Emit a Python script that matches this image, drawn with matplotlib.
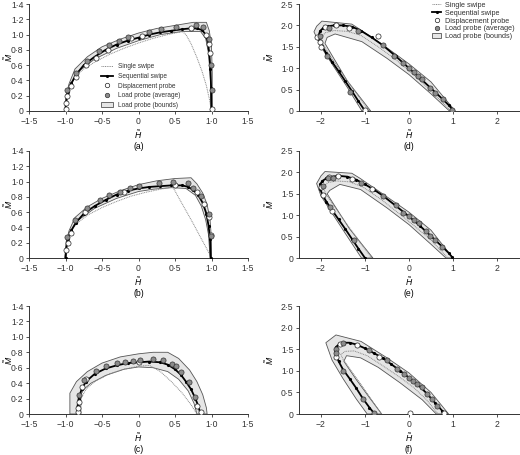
import matplotlib
matplotlib.use("Agg")
import matplotlib.pyplot as plt
from matplotlib.ticker import FuncFormatter, FixedLocator
from matplotlib.lines import Line2D
from matplotlib.patches import Patch

plt.rcParams['font.family'] = ['Liberation Sans', 'DejaVu Sans']
plt.rcParams['mathtext.fontset'] = 'custom'
plt.rcParams['mathtext.it'] = 'Liberation Sans:italic'
plt.rcParams['mathtext.rm'] = 'Liberation Sans'

# ---------------- data ----------------
captions = ['(a)', '(b)', '(c)', '(d)', '(e)', '(f)']
legend_labels = ['Single swipe', 'Sequential swipe', 'Displacement probe',
                 'Load probe (average)', 'Load probe (bounds)']
left_xticks = [-1.5, -1.0, -0.5, 0.0, 0.5, 1.0, 1.5]
left_yticks = [0.0, 0.2, 0.4, 0.6, 0.8, 1.0, 1.2, 1.4]
right_xticks = [-2, -1, 0, 1, 2]
right_yticks = [0.0, 0.5, 1.0, 1.5, 2.0, 2.5]

# panel (a)
a_seq_H = [-1.0, -0.99, -0.97, -0.92, -0.86, -0.75, -0.6, -0.45, -0.3, -0.15, 0.0, 0.15, 0.3, 0.45, 0.6, 0.7, 0.8, 0.87, 0.92, 0.95, 0.97, 0.985, 0.995, 1.0]
a_seq_M = [0.0, 0.12, 0.25, 0.36, 0.47, 0.6, 0.71, 0.8, 0.87, 0.92, 0.96, 1.0, 1.03, 1.05, 1.07, 1.08, 1.08, 1.06, 1.0, 0.9, 0.75, 0.55, 0.3, 0.0]
a_single_H = [-1.0, -0.98, -0.94, -0.87, -0.75, -0.6, -0.4, -0.2, 0.0, 0.2, 0.4, 0.6, 0.65, 0.72, 0.8, 0.87, 0.93, 0.97, 1.0]
a_single_M = [0.0, 0.18, 0.33, 0.45, 0.55, 0.64, 0.74, 0.82, 0.89, 0.95, 1.0, 1.04, 1.0, 0.88, 0.7, 0.52, 0.33, 0.16, 0.0]
a_disp_H = [-1.0, -1.0, -0.98, -0.93, -0.86, -0.72, -0.58, -0.42, -0.1, 0.05, 0.72, 0.92, 0.96, 0.98, 1.0]
a_disp_M = [0.02, 0.11, 0.2, 0.33, 0.44, 0.6, 0.7, 0.8, 0.95, 0.98, 1.09, 0.99, 0.88, 0.76, 0.03]
a_load_H = [-0.98, -0.85, -0.70, -0.54, -0.40, -0.27, -0.14, 0.14, 0.31, 0.51, 0.79, 0.88, 0.97, 0.99, 1.0]
a_load_M = [0.28, 0.50, 0.66, 0.78, 0.86, 0.91, 0.965, 1.04, 1.07, 1.10, 1.13, 1.10, 0.94, 0.60, 0.28]
a_bound_H = [-1.01, -0.99, -0.95, -0.87, -0.7, -0.5, -0.25, 0.0, 0.25, 0.5, 0.75, 0.93, 0.97, 1.0, 1.01, 1.01,
             0.99, 0.985, 0.96, 0.92, 0.85, 0.6, 0.3, 0.0, -0.3, -0.6, -0.82, -0.93, -0.98, -0.99]
a_bound_M = [0.0, 0.22, 0.36, 0.55, 0.71, 0.84, 0.94, 1.02, 1.08, 1.12, 1.16, 1.16, 1.05, 0.85, 0.5, 0.0,
             0.0, 0.4, 0.75, 0.95, 1.04, 1.04, 1.0, 0.92, 0.82, 0.68, 0.52, 0.35, 0.18, 0.0]

# panel (b)
b_seq_H = [-1.0, -0.99, -0.97, -0.92, -0.86, -0.75, -0.6, -0.45, -0.3, -0.15, 0.0, 0.15, 0.3, 0.45, 0.6, 0.68, 0.75, 0.82, 0.88, 0.93, 0.96, 0.98, 0.99]
b_seq_M = [0.0, 0.12, 0.25, 0.36, 0.46, 0.58, 0.68, 0.76, 0.83, 0.88, 0.91, 0.93, 0.94, 0.95, 0.95, 0.93, 0.89, 0.82, 0.72, 0.58, 0.42, 0.25, 0.0]
b_single_H = [-1.0, -0.98, -0.93, -0.85, -0.7, -0.5, -0.3, -0.1, 0.1, 0.3, 0.47, 0.55, 0.65, 0.75, 0.85, 0.93, 0.99]
b_single_M = [0.0, 0.2, 0.34, 0.45, 0.56, 0.66, 0.74, 0.81, 0.86, 0.9, 0.93, 0.79, 0.62, 0.45, 0.27, 0.13, 0.02]
b_disp_H = [-1.0, -0.97, -0.93, -0.73, -0.2, 0.5, 0.8, 0.9, 0.96, 0.99]
b_disp_M = [0.1, 0.2, 0.33, 0.6, 0.87, 0.96, 0.87, 0.7, 0.53, 0.3]
b_load_H = [-0.98, -0.87, -0.7, -0.53, -0.4, -0.25, -0.12, 0.0, 0.28, 0.47, 0.68, 0.75, 0.86, 0.97, 0.99]
b_load_M = [0.28, 0.5, 0.66, 0.76, 0.83, 0.87, 0.91, 0.94, 0.98, 0.99, 0.98, 0.92, 0.81, 0.57, 0.29]
b_bound_H = [-1.01, -0.99, -0.95, -0.87, -0.7, -0.5, -0.25, 0.0, 0.25, 0.5, 0.72, 0.8, 0.88, 0.94, 0.98, 1.0, 1.0,
             0.98, 0.96, 0.92, 0.86, 0.78, 0.65, 0.45, 0.2, 0.0, -0.3, -0.6, -0.82, -0.93, -0.98, -0.99]
b_bound_M = [0.0, 0.22, 0.36, 0.53, 0.67, 0.78, 0.88, 0.96, 1.01, 1.04, 1.05, 0.97, 0.85, 0.7, 0.5, 0.25, 0.0,
             0.0, 0.3, 0.5, 0.68, 0.82, 0.91, 0.92, 0.9, 0.87, 0.78, 0.65, 0.5, 0.35, 0.18, 0.0]

# panel (c)
c_seq_H = [-0.84, -0.835, -0.82, -0.78, -0.72, -0.6, -0.45, -0.3, -0.15, 0.0, 0.15, 0.3, 0.4, 0.5, 0.58, 0.65, 0.72, 0.78, 0.82, 0.85]
c_seq_M = [0.0, 0.1, 0.2, 0.32, 0.42, 0.52, 0.59, 0.63, 0.66, 0.67, 0.68, 0.67, 0.64, 0.58, 0.51, 0.42, 0.32, 0.2, 0.1, 0.0]
c_single_H = [-0.83, -0.8, -0.72, -0.6, -0.4, -0.2, 0.0, 0.15, 0.3, 0.45, 0.6, 0.72, 0.8]
c_single_M = [0.0, 0.18, 0.32, 0.42, 0.52, 0.58, 0.62, 0.63, 0.55, 0.42, 0.27, 0.12, 0.0]
c_disp_H = [-0.83, -0.83, -0.82, -0.78, -0.72, 0.0, 0.8, 0.85]
c_disp_M = [0.02, 0.08, 0.15, 0.35, 0.45, 0.67, 0.1, 0.02]
c_load_H = [-0.82, -0.75, -0.58, -0.44, -0.3, -0.18, -0.08, 0.02, 0.2, 0.33, 0.46, 0.51, 0.58, 0.69, 0.78]
c_load_M = [0.25, 0.44, 0.56, 0.62, 0.66, 0.68, 0.69, 0.70, 0.71, 0.70, 0.65, 0.62, 0.55, 0.41, 0.22]
c_bound_H = [-0.94, -0.94, -0.85, -0.7, -0.5, -0.25, 0.0, 0.2, 0.4, 0.55, 0.7, 0.8, 0.88, 0.93, 0.94,
             0.8, 0.76, 0.68, 0.55, 0.4, 0.2, 0.0, -0.2, -0.45, -0.65, -0.75, -0.79, -0.79]
c_bound_M = [0.0, 0.27, 0.42, 0.55, 0.66, 0.74, 0.78, 0.8, 0.8, 0.72, 0.57, 0.42, 0.25, 0.08, 0.0,
             0.0, 0.14, 0.3, 0.45, 0.55, 0.6, 0.61, 0.58, 0.5, 0.4, 0.32, 0.25, 0.0]

# panel (d)
d_seq_H = [-1.0, -1.15, -1.3, -1.45, -1.6, -1.75, -1.88, -1.98, -2.04, -2.05, -2.02, -1.95, -1.85, -1.7, -1.5, -1.3, -1.1, -0.85, -0.6, -0.3, 0.0, 0.25, 0.5, 0.75, 0.9, 1.0]
d_seq_M = [0.0, 0.23, 0.47, 0.7, 0.93, 1.15, 1.35, 1.52, 1.67, 1.78, 1.87, 1.94, 1.98, 2.0, 2.0, 1.97, 1.88, 1.72, 1.54, 1.28, 1.0, 0.77, 0.53, 0.29, 0.14, 0.02]
d_single_H = [-0.9, -1.2, -1.5, -1.8, -1.95, -2.0, -1.9, -1.7, -1.4, -1.1, -0.7, -0.3, 0.1, 0.5, 0.95]
d_single_M = [0.0, 0.42, 0.85, 1.3, 1.55, 1.72, 1.83, 1.88, 1.86, 1.77, 1.5, 1.2, 0.85, 0.47, 0.0]
d_disp_H = [-2.08, -2.03, -2.0, -1.9, -1.66, -1.36, -0.71, -1.0]
d_disp_M = [1.74, 1.62, 1.5, 1.97, 2.0, 1.95, 1.75, 0.02]
d_load_H = [-2.03, -1.87, -1.33, -1.82, -1.17, -0.6, -0.33, -0.13, 0.0, 0.11, 0.21, 0.29, 0.48, 0.59, 0.77, 0.97]
d_load_M = [1.76, 1.28, 0.45, 1.95, 1.88, 1.54, 1.28, 1.13, 1.0, 0.92, 0.82, 0.74, 0.53, 0.41, 0.27, 0.02]
d_bound_H = [-1.07, -1.4, -1.75, -2.0, -2.16, -2.1, -1.98, -1.3, -1.15, -0.6, 0.0, 0.5, 1.05,
             0.92, 0.5, 0.0, -0.5, -1.07, -1.68, -1.86, -1.91, -1.75, -1.4, -0.87]
d_bound_M = [0.0, 0.55, 1.1, 1.5, 1.85, 1.98, 2.1, 2.03, 1.93, 1.55, 1.1, 0.68, 0.0,
             0.0, 0.4, 0.85, 1.23, 1.62, 1.8, 1.72, 1.58, 1.3, 0.7, 0.0]

# panel (e)
e_seq_H = [-1.0, -1.15, -1.3, -1.45, -1.6, -1.75, -1.88, -1.97, -2.02, -2.02, -1.97, -1.88, -1.75, -1.6, -1.4, -1.2, -1.0, -0.8, -0.6, -0.3, 0.0, 0.25, 0.5, 0.75, 0.9, 0.98]
e_seq_M = [0.0, 0.22, 0.45, 0.68, 0.9, 1.12, 1.32, 1.48, 1.62, 1.72, 1.8, 1.86, 1.9, 1.92, 1.9, 1.83, 1.72, 1.6, 1.46, 1.22, 0.97, 0.75, 0.51, 0.27, 0.12, 0.02]
e_single_H = [-0.85, -1.15, -1.45, -1.75, -1.9, -1.95, -1.85, -1.65, -1.35, -1.05, -0.65, -0.3, 0.1, 0.5, 0.88]
e_single_M = [0.0, 0.42, 0.85, 1.28, 1.52, 1.66, 1.76, 1.8, 1.78, 1.66, 1.38, 1.1, 0.77, 0.42, 0.0]
e_disp_H = [-2.0, -1.95, -1.82, -1.62, -1.3, -0.84, -1.74]
e_disp_M = [1.65, 1.48, 1.9, 1.92, 1.85, 1.62, 1.1]
e_load_H = [-1.95, -1.83, -1.72, -1.09, -0.6, -0.3, -0.13, 0.0, 0.11, 0.22, 0.38, 0.48, 0.59, 0.74, -1.8, -1.24]
e_load_M = [1.68, 1.87, 1.88, 1.75, 1.45, 1.24, 1.06, 0.98, 0.89, 0.81, 0.62, 0.52, 0.41, 0.25, 1.18, 0.41]
e_bound_H = [-1.08, -1.4, -1.75, -2.0, -2.1, -2.0, -1.91, -1.3, -1.11, -0.6, 0.0, 0.5, 1.0,
             0.84, 0.5, 0.0, -0.5, -1.1, -1.57, -1.8, -1.86, -1.72, -1.35, -0.82]
e_bound_M = [0.0, 0.5, 1.05, 1.45, 1.74, 1.92, 2.02, 1.98, 1.86, 1.5, 1.07, 0.65, 0.0,
             0.0, 0.32, 0.78, 1.17, 1.6, 1.72, 1.58, 1.5, 1.27, 0.68, 0.0]

# panel (f)
f_seq_H = [-0.78, -0.9, -1.05, -1.2, -1.35, -1.5, -1.6, -1.66, -1.68, -1.65, -1.58, -1.47, -1.35, -1.2, -1.0, -0.8, -0.6, -0.4, -0.2, 0.0, 0.2, 0.4, 0.6, 0.75, 0.8]
f_seq_M = [0.0, 0.15, 0.36, 0.6, 0.82, 1.03, 1.22, 1.37, 1.48, 1.56, 1.62, 1.65, 1.65, 1.61, 1.52, 1.41, 1.3, 1.15, 1.0, 0.84, 0.68, 0.48, 0.25, 0.08, 0.0]
f_single_H = [-0.62, -0.85, -1.1, -1.35, -1.5, -1.55, -1.45, -1.25, -0.95, -0.6, -0.25, 0.1, 0.4, 0.66]
f_single_M = [0.0, 0.33, 0.7, 1.05, 1.27, 1.38, 1.45, 1.46, 1.35, 1.12, 0.88, 0.62, 0.33, 0.0]
f_disp_H = [-1.66, -1.57, -1.19, -0.68, 0.02, 0.8]
f_disp_M = [1.33, 1.62, 1.6, 1.32, 0.02, 0.02]
f_load_H = [-1.66, -1.66, -1.51, -0.91, -0.49, -0.27, -0.11, 0.0, 0.1, 0.19, 0.29, 0.4, 0.52, 0.63, -1.49, -1.04, -0.79]
f_load_M = [1.51, 1.41, 1.64, 1.47, 1.25, 1.05, 0.93, 0.83, 0.77, 0.7, 0.62, 0.46, 0.35, 0.18, 1.0, 0.35, 0.02]
f_bound_H = [-0.95, -1.2, -1.5, -1.75, -1.89, -1.66, -1.09, -0.5, 0.0, 0.5, 0.9,
             0.62, 0.3, -0.2, -0.7, -1.1, -1.42, -1.48, -1.2, -0.9, -0.62]
f_bound_M = [0.0, 0.35, 0.82, 1.25, 1.65, 1.83, 1.68, 1.3, 0.95, 0.5, 0.0,
             0.0, 0.33, 0.72, 1.08, 1.3, 1.35, 1.22, 0.8, 0.38, 0.0]

panels = [
    (a_seq_H, a_seq_M, a_single_H, a_single_M, a_disp_H, a_disp_M, a_load_H, a_load_M, a_bound_H, a_bound_M),
    (b_seq_H, b_seq_M, b_single_H, b_single_M, b_disp_H, b_disp_M, b_load_H, b_load_M, b_bound_H, b_bound_M),
    (c_seq_H, c_seq_M, c_single_H, c_single_M, c_disp_H, c_disp_M, c_load_H, c_load_M, c_bound_H, c_bound_M),
    (d_seq_H, d_seq_M, d_single_H, d_single_M, d_disp_H, d_disp_M, d_load_H, d_load_M, d_bound_H, d_bound_M),
    (e_seq_H, e_seq_M, e_single_H, e_single_M, e_disp_H, e_disp_M, e_load_H, e_load_M, e_bound_H, e_bound_M),
    (f_seq_H, f_seq_M, f_single_H, f_single_M, f_disp_H, f_disp_M, f_load_H, f_load_M, f_bound_H, f_bound_M),
]

# ---------------- styles ----------------
FILL = '#e6e6e6'
EDGE = '#555555'
SINGLE = '#8a8a8a'
LOADC = '#8c8c8c'
FS = 6.2


def fmt_dec(v, pos=None):
    if abs(v) < 1e-9:
        return '0'
    return ('%.1f' % v).replace('.', '\u00b7').replace('-', '\u2212')


def fmt_int(v, pos=None):
    if abs(v) < 1e-9:
        return '0'
    return ('%d' % round(v)).replace('-', '\u2212')


fig = plt.figure(figsize=(5.2, 4.55), dpi=100)
lefts = [29 / 520, 299 / 520]
widths = [219 / 520, 220 / 520]
row_px = [(4, 111), (151, 258), (306, 414)]

for i, data in enumerate(panels):
    col = i // 3
    row = i % 3
    top_px, bot_px = row_px[row]
    ax = fig.add_axes([lefts[col], 1 - bot_px / 455, widths[col], (bot_px - top_px) / 455])
    sH, sM, gH, gM, dH, dM, lH, lM, bH, bM = data
    ax.fill(bH, bM, facecolor=FILL, edgecolor=EDGE, linewidth=0.6, zorder=1)
    ax.plot(gH, gM, color=SINGLE, linestyle=(0, (1, 0.8)), linewidth=0.7, zorder=2)
    ax.plot(sH, sM, color='black', linewidth=1.3, marker='.', markersize=2.5, zorder=3)
    ax.plot(dH, dM, linestyle='none', marker='o', markersize=3.7, markerfacecolor='white',
            markeredgecolor='#222222', markeredgewidth=0.5, zorder=4)
    ax.plot(lH, lM, linestyle='none', marker='o', markersize=3.7, markerfacecolor=LOADC,
            markeredgecolor='#333333', markeredgewidth=0.5, zorder=5)

    if col == 0:
        ax.set_xlim(-1.5, 1.5)
        ax.set_ylim(0, 1.4)
        ax.xaxis.set_major_locator(FixedLocator(left_xticks))
        ax.yaxis.set_major_locator(FixedLocator(left_yticks))
        ax.xaxis.set_major_formatter(FuncFormatter(fmt_dec))
    else:
        ax.set_xlim(-2.5, 2.5)
        ax.set_ylim(0, 2.5)
        ax.xaxis.set_major_locator(FixedLocator(right_xticks))
        ax.yaxis.set_major_locator(FixedLocator(right_yticks))
        ax.xaxis.set_major_formatter(FuncFormatter(fmt_int))
    ax.yaxis.set_major_formatter(FuncFormatter(fmt_dec))
    for s in ['top', 'right']:
        ax.spines[s].set_visible(False)
    for s in ['left', 'bottom']:
        ax.spines[s].set_linewidth(0.7)
        ax.spines[s].set_color('#333333')
    ax.tick_params(direction='out', length=2.5, width=0.6, labelsize=FS, pad=1.5, colors='#333333')
    ax.set_xlabel(r'$\tilde{H}$', fontsize=FS, labelpad=2)
    ax.set_ylabel(r'$\tilde{M}$', fontsize=FS)
    ax.yaxis.set_label_coords(-0.066 if col == 0 else -0.103, 0.5)
    ax.text(0.5, -0.33, captions[i], transform=ax.transAxes, ha='center', va='center', fontsize=FS)

    if i in (0, 3):
        handles = [
            Line2D([], [], color=SINGLE, linestyle=(0, (1, 0.8)), linewidth=0.7),
            Line2D([], [], color='black', linewidth=1.3, marker='.', markersize=2.5),
            Line2D([], [], linestyle='none', marker='o', markersize=3.2, markerfacecolor='white',
                   markeredgecolor='#222222', markeredgewidth=0.5),
            Line2D([], [], linestyle='none', marker='o', markersize=3.2, markerfacecolor=LOADC,
                   markeredgecolor='#333333', markeredgewidth=0.5),
            Patch(facecolor=FILL, edgecolor=EDGE, linewidth=0.6),
        ]
        if i == 0:
            leg = ax.legend(handles, legend_labels, loc='upper left', bbox_to_anchor=(0.33, 0.445),
                            frameon=False, fontsize=4.7, handlelength=1.8, handletextpad=0.7,
                            labelspacing=0.4, borderpad=0, borderaxespad=0, handleheight=0.6)
        else:
            leg = ax.legend(handles, legend_labels, loc='upper left', bbox_to_anchor=(0.605, 1.02),
                            frameon=False, fontsize=5.2, handlelength=1.3, handletextpad=0.5,
                            labelspacing=0.12, borderpad=0, borderaxespad=0, handleheight=0.6)
        for t in leg.get_texts():
            t.set_color('#333333')

fig.savefig('out.png', dpi=100)
